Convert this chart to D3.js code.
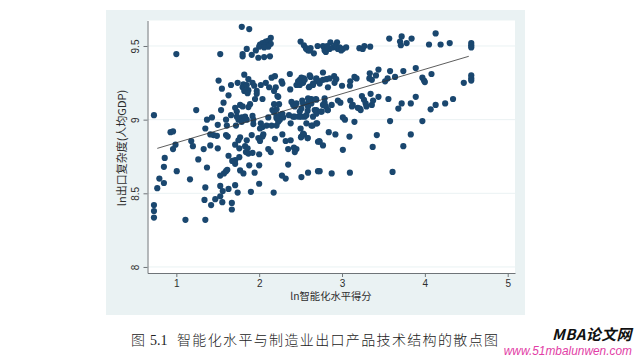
<!DOCTYPE html>
<html>
<head>
<meta charset="utf-8">
<script src="https://cdn.jsdelivr.net/npm/d3@7"></script>
<style>
  html, body { margin: 0; padding: 0; background: #fff; }
  svg { display: block; }
</style>
</head>
<body>
<div id="chart"></div>
<script>
// [ln intelligence score, ln export complexity]
const topBand = [[1.79,9.63],[1.88,9.615],[1.00,9.445],[1.53,9.445],[1.80,9.445],[1.80,9.43],[1.85,9.48],[1.91,9.44],[1.96,9.47],[1.99,9.42],[2.06,9.425],[2.13,9.43],[2.01,9.51],[2.04,9.52],[2.08,9.53],[2.14,9.555],[2.11,9.535],[2.14,9.515],[2.08,9.505],[2.11,9.495],[2.00,9.495],[2.06,9.49],[2.50,9.53],[2.54,9.505],[2.565,9.485],[2.62,9.485],[2.66,9.45],[2.59,9.47],[2.705,9.5],[2.57,9.48],[2.61,9.47],[2.77,9.50],[2.79,9.485],[2.805,9.46],[2.86,9.525],[2.85,9.48],[2.89,9.49],[2.94,9.525],[2.95,9.48],[3.01,9.48],[3.05,9.49],[2.79,9.47],[2.82,9.50],[2.92,9.505],[2.97,9.49],[2.99,9.47],[3.21,9.485],[3.25,9.48],[3.27,9.50],[3.34,9.495],[3.57,9.55],[3.72,9.565],[3.70,9.53],[3.71,9.505],[3.78,9.52],[3.84,9.55],[4.05,9.51],[4.13,9.585],[4.19,9.51],[4.30,9.52],[4.56,9.52],[4.56,9.505],[4.56,9.49]];
const upperBand = [[1.82,9.305],[1.51,9.265],[2.37,9.31],[2.19,9.295],[2.15,9.285],[1.87,9.275],[1.74,9.25],[1.66,9.235],[1.55,9.21],[1.81,9.24],[1.80,9.22],[1.85,9.235],[1.92,9.25],[1.94,9.23],[1.82,9.195],[1.87,9.20],[1.86,9.18],[1.97,9.195],[1.97,9.175],[1.63,9.165],[2.02,9.235],[2.08,9.25],[2.12,9.22],[2.20,9.22],[2.18,9.195],[2.27,9.26],[2.28,9.245],[2.375,9.205],[2.45,9.235],[2.49,9.27],[2.54,9.28],[2.62,9.29],[2.69,9.275],[2.49,9.235],[2.53,9.25],[2.60,9.22],[2.65,9.235],[2.71,9.26],[2.61,9.30],[2.51,9.285],[2.47,9.26],[2.55,9.27],[2.61,9.225],[2.65,9.245],[2.69,9.28],[2.73,9.245],[2.77,9.32],[2.73,9.26],[2.77,9.27],[2.81,9.275],[2.85,9.28],[2.905,9.295],[2.93,9.275],[2.91,9.25],[2.83,9.22],[3.00,9.23],[3.095,9.23],[3.10,9.26],[3.15,9.29],[3.175,9.28],[3.335,9.315],[3.33,9.28],[3.36,9.27],[3.41,9.30],[3.44,9.34],[3.52,9.26],[3.55,9.28],[3.58,9.33],[3.64,9.29],[3.74,9.33],[3.89,9.35],[3.97,9.285],[3.99,9.265],[4.00,9.255],[4.08,9.31],[4.47,9.25],[4.56,9.30],[4.56,9.28],[4.56,9.265]];
const midBand = [[2.63,9.14],[1.57,9.115],[1.95,9.14],[2.04,9.14],[2.22,9.16],[2.18,9.105],[2.24,9.105],[2.39,9.12],[2.41,9.10],[2.45,9.11],[2.52,9.13],[2.60,9.14],[2.60,9.115],[2.69,9.135],[1.77,9.10],[1.80,9.09],[1.89,9.105],[1.87,9.085],[1.71,9.08],[1.24,9.065],[1.54,9.065],[1.73,9.055],[1.66,9.03],[1.60,9.00],[1.37,9.00],[1.43,9.015],[0.73,9.03],[1.79,9.015],[1.83,9.02],[1.75,9.00],[1.85,9.00],[1.79,8.985],[1.92,9.025],[1.93,9.00],[1.93,8.97],[1.73,9.02],[2.11,9.015],[2.16,9.065],[2.18,9.05],[2.21,9.07],[2.28,9.04],[2.21,9.02],[2.25,9.03],[2.29,9.015],[2.25,9.00],[2.36,9.03],[2.41,9.02],[2.48,9.02],[2.55,9.02],[2.49,9.055],[2.585,9.06],[2.65,9.02],[2.69,9.065],[2.23,9.155],[2.59,9.145],[2.685,9.14],[2.79,9.145],[2.53,9.11],[2.61,9.12],[2.43,9.09],[2.51,9.075],[2.59,9.09],[2.63,9.11],[2.67,9.065],[2.69,9.04],[2.755,9.055],[2.79,9.115],[2.825,9.065],[2.21,9.01],[2.43,9.02],[2.51,9.02],[2.57,9.03],[2.77,9.10],[2.805,9.09],[2.83,9.065],[2.875,9.10],[2.745,9.055],[2.95,9.13],[2.98,9.115],[3.10,9.13],[3.13,9.10],[3.12,9.09],[3.19,9.08],[3.215,9.075],[3.225,9.065],[3.24,9.16],[3.265,9.135],[3.285,9.11],[3.345,9.175],[3.295,9.09],[3.36,9.10],[3.375,9.13],[3.44,9.155],[3.56,9.14],[3.68,9.075],[3.72,9.11],[3.83,9.11],[3.89,9.155],[4.07,9.07],[4.13,9.10],[4.245,9.11],[4.34,9.14],[3.01,9.015],[3.035,9.00],[3.15,8.985],[3.58,8.99],[3.97,8.99]];
const lowerBand = [[2.38,8.975],[2.63,8.96],[2.69,8.975],[2.57,8.975],[2.645,8.96],[2.70,8.975],[2.50,8.94],[2.53,8.905],[2.505,8.88],[2.585,8.875],[2.02,8.975],[2.04,8.95],[2.09,8.96],[2.15,8.96],[2.21,8.96],[2.23,8.985],[2.01,8.94],[1.61,8.96],[1.50,8.965],[1.72,8.96],[1.35,8.94],[0.96,8.92],[0.93,8.915],[1.41,8.90],[1.45,8.895],[1.49,8.89],[1.60,8.895],[1.62,8.885],[1.77,8.88],[1.75,8.86],[1.85,8.86],[1.91,8.895],[2.05,8.90],[2.04,8.885],[1.99,8.875],[2.01,8.855],[2.19,8.87],[2.28,8.90],[2.32,8.855],[2.38,8.86],[2.51,8.885],[2.54,8.90],[2.585,8.875],[2.71,8.85],[2.725,8.855],[1.18,8.855],[1.20,8.82],[0.99,8.83],[0.96,8.80],[1.41,8.825],[1.33,8.80],[1.50,8.805],[1.71,8.83],[1.76,8.805],[1.83,8.82],[1.86,8.805],[1.84,8.78],[1.87,8.77],[1.92,8.775],[2.00,8.765],[2.11,8.80],[2.14,8.78],[2.35,8.80],[2.42,8.81],[2.45,8.80],[2.43,8.78],[2.84,8.915],[2.92,8.90],[3.09,8.885],[3.42,8.895],[3.83,8.90],[2.73,8.85],[2.77,8.825],[3.01,8.795],[3.37,8.815],[3.74,8.82]];
const bottomBand = [[1.63,8.755],[1.71,8.725],[1.76,8.745],[1.71,8.70],[1.675,8.72],[0.86,8.74],[1.265,8.73],[0.85,8.68],[1.005,8.65],[1.88,8.69],[2.00,8.69],[2.35,8.695],[1.37,8.675],[0.795,8.60],[0.85,8.57],[0.77,8.535],[1.165,8.595],[1.35,8.54],[1.53,8.55],[1.56,8.515],[1.63,8.53],[1.71,8.555],[1.74,8.505],[1.90,8.51],[2.00,8.565],[2.175,8.505],[1.53,8.62],[1.575,8.635],[1.60,8.65],[1.615,8.66],[1.77,8.655],[1.81,8.635],[1.945,8.64],[2.275,8.62],[2.32,8.60],[2.51,8.61],[2.59,8.64],[2.71,8.65],[1.34,8.455],[1.47,8.46],[1.53,8.48],[1.42,8.42],[1.555,8.44],[1.67,8.435],[1.67,8.39],[0.73,8.42],[0.73,8.38],[0.73,8.335],[1.11,8.32],[1.35,8.32],[2.73,8.65],[2.875,8.635],[3.095,8.64],[3.61,8.645]];

const fitX = [0.77, 4.53];
const fitY = [8.805, 9.43];

const xTicks = [1, 2, 3, 4, 5];
const yTicks = [8, 8.5, 9, 9.5];
const xTitle = "ln智能化水平得分";
const yTitle = "ln出口复杂度(人均GDP)";

const width = 634, height = 356;
const panel = { left: 106, top: 10, right: 525, bottom: 315 };
const plot = { left: 147.5, top: 20.5, right: 515, bottom: 273 };
const navy = "#1a476f", axisGrey = "#6f7478", inkGrey = "#2e2e2e";

const svg = d3.select("#chart").append("svg")
  .attr("width", width)
  .attr("height", height)
  .style("font-family", "'Liberation Sans', Arial, sans-serif");

svg.append("rect")
  .attr("x", panel.left)
  .attr("y", panel.top)
  .attr("width", panel.right - panel.left)
  .attr("height", panel.bottom - panel.top)
  .attr("fill", "#eaf2f3");

svg.append("rect")
  .attr("x", plot.left)
  .attr("y", plot.top)
  .attr("width", plot.right - plot.left)
  .attr("height", plot.bottom - plot.top)
  .attr("fill", "#fff");

const xScale = d3.scaleLinear().domain([0.652, 5.088]).range([plot.left, plot.right]);
const yScale = d3.scaleLinear().domain([7.959, 9.673]).range([plot.bottom, plot.top]);

// grid first so the dots sit on top
svg.append("g")
  .selectAll("line")
  .data(yTicks)
  .enter().append("line")
  .attr("x1", plot.left)
  .attr("x2", plot.right)
  .attr("y1", d => yScale(d))
  .attr("y2", d => yScale(d))
  .attr("stroke", "#eaf2f3")
  .attr("stroke-width", 1);

const xAxis = svg.append("g")
  .attr("transform", `translate(0, ${plot.bottom})`)
  .call(d3.axisBottom(xScale).tickValues(xTicks).tickFormat(d3.format("d")).tickSize(4).tickPadding(3).tickSizeOuter(0));

const yAxis = svg.append("g")
  .attr("transform", `translate(${plot.left}, 0)`)
  .call(d3.axisLeft(yScale).tickValues(yTicks).tickFormat(d => d).tickSize(4).tickSizeOuter(0));

yAxis.selectAll("text")
  .attr("x", 0)
  .attr("dy", 0)
  .attr("text-anchor", "middle")
  .attr("transform", "translate(-9, 0) rotate(-90)");

[xAxis, yAxis].forEach(axis => {
  axis.selectAll("path, line").attr("stroke", axisGrey).attr("stroke-width", 1);
  axis.selectAll("text")
    .attr("fill", inkGrey)
    .style("font-family", "'Liberation Sans', Arial, sans-serif")
    .style("font-size", "10px");
});

const points = [...topBand, ...upperBand, ...midBand, ...lowerBand, ...bottomBand];

svg.append("g")
  .selectAll("circle")
  .data(points)
  .enter().append("circle")
  .attr("cx", d => xScale(d[0]))
  .attr("cy", d => yScale(d[1]))
  .attr("r", 3.1)
  .attr("fill", navy);

svg.append("line")
  .attr("x1", xScale(fitX[0]))
  .attr("y1", yScale(fitY[0]))
  .attr("x2", xScale(fitX[1]))
  .attr("y2", yScale(fitY[1]))
  .attr("stroke", "#333")
  .attr("stroke-width", 0.8);

const cjkSans = "'Noto Sans CJK SC', 'Liberation Sans', sans-serif";

svg.append("text")
  .attr("x", 331)
  .attr("y", 300)
  .attr("text-anchor", "middle")
  .attr("fill", inkGrey)
  .style("font-family", cjkSans)
  .style("font-size", "10.3px")
  .text(xTitle);

svg.append("text")
  .attr("transform", "translate(126, 148) rotate(-90)")
  .attr("text-anchor", "middle")
  .attr("fill", inkGrey)
  .style("font-family", cjkSans)
  .style("font-size", "11px")
  .text(yTitle);

// caption under the figure
svg.append("text")
  .attr("x", 131)
  .attr("y", 345)
  .attr("fill", "#222")
  .style("font-family", cjkSans)
  .style("font-size", "14px")
  .style("font-weight", 300)
  .text("图");

svg.append("text")
  .attr("x", 150)
  .attr("y", 345)
  .attr("fill", "#222")
  .style("font-family", "'Liberation Serif', serif")
  .style("font-size", "14px")
  .text("5.1");

svg.append("text")
  .attr("x", 177)
  .attr("y", 345)
  .attr("fill", "#222")
  .style("font-family", cjkSans)
  .style("font-size", "14px")
  .style("font-weight", 300)
  .style("letter-spacing", "1.35px")
  .text("智能化水平与制造业出口产品技术结构的散点图");

// watermark bottom right
svg.append("text")
  .attr("x", 632)
  .attr("y", 339.5)
  .attr("text-anchor", "end")
  .attr("fill", "#111")
  .style("font-family", cjkSans)
  .style("font-size", "15px")
  .style("font-weight", 700)
  .style("font-style", "italic")
  .style("letter-spacing", "0.4px")
  .text("MBA论文网");

svg.append("text")
  .attr("x", 632)
  .attr("y", 354.5)
  .attr("text-anchor", "end")
  .attr("fill", "#e23ea6")
  .style("font-size", "11.9px")
  .style("font-style", "italic")
  .text("www.51mbalunwen.com");
</script>
</body>
</html>
